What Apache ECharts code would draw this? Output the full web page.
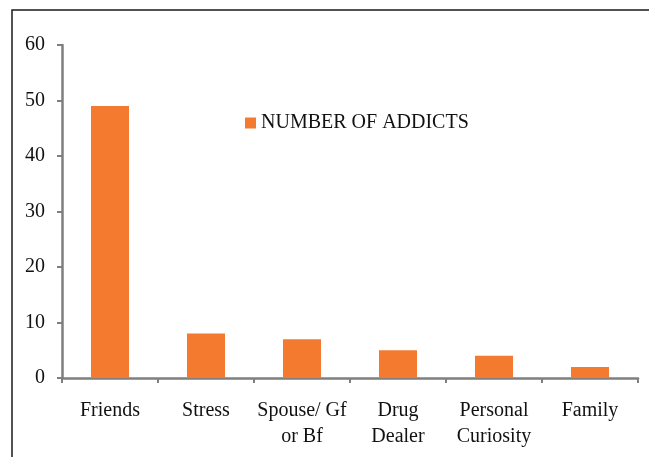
<!DOCTYPE html>
<html>
<head>
<meta charset="utf-8">
<script src="https://cdn.jsdelivr.net/npm/echarts@6/dist/echarts.min.js"></script>
<style>
  html, body { margin: 0; padding: 0; background: #fff; }
  #chart { width: 649px; height: 457px; }
</style>
</head>
<body>
<div id="chart"></div>
<script>
// Reasons for starting drug use
const categories = ['Friends', 'Stress', 'Spouse/ Gf\nor Bf', 'Drug\nDealer', 'Personal\nCuriosity', 'Family'];
const addicts = [49, 8, 7, 5, 4, 2];
const seriesName = 'NUMBER OF ADDICTS';
const yTicks = { min: 0, max: 60, interval: 10 };

const serif = '"Liberation Serif", "DejaVu Serif", serif';
const axisGrey = '#7f7f7f';
const barOrange = '#f47a30';

const chart = echarts.init(document.getElementById('chart'), null, { renderer: 'canvas' });
chart.setOption({
  animation: false,
  backgroundColor: '#ffffff',
  graphic: [{
    type: 'rect',
    shape: { x: 12, y: 10, width: 700, height: 500 },
    style: { fill: 'none', stroke: '#1a1a1a', lineWidth: 1.5 },
    silent: true
  }],
  grid: { left: 62, right: 11, top: 45, bottom: 79, containLabel: false },
  legend: {
    data: [seriesName],
    left: 240,
    top: 108,
    itemWidth: 11,
    itemHeight: 11,
    itemGap: 4,
    icon: 'rect',
    textStyle: { fontFamily: serif, fontSize: 20, color: '#111' }
  },
  xAxis: {
    type: 'category',
    data: categories,
    boundaryGap: true,
    axisLine: { lineStyle: { color: axisGrey, width: 2.5 } },
    axisTick: { show: true, alignWithLabel: false, length: 5, lineStyle: { color: axisGrey, width: 2 } },
    axisLabel: {
      interval: 0,
      margin: 20,
      fontFamily: serif,
      fontSize: 20,
      lineHeight: 26,
      color: '#111'
    }
  },
  yAxis: {
    type: 'value',
    min: yTicks.min,
    max: yTicks.max,
    interval: yTicks.interval,
    splitLine: { show: false },
    axisLine: { show: true, lineStyle: { color: axisGrey, width: 2.5 } },
    axisTick: { show: true, length: 5, lineStyle: { color: axisGrey, width: 2 } },
    axisLabel: { margin: 17, fontFamily: serif, fontSize: 20, color: '#111' }
  },
  series: [{
    name: seriesName,
    type: 'bar',
    data: addicts,
    barWidth: 38,
    itemStyle: { color: barOrange }
  }]
});
</script>
</body>
</html>
